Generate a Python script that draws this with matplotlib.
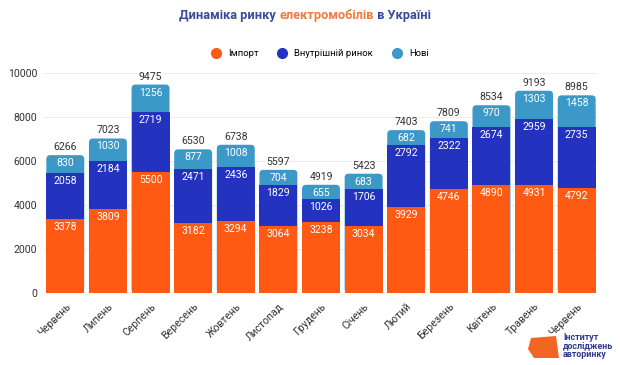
import matplotlib
matplotlib.use("Agg")
import matplotlib.pyplot as plt
from matplotlib.patches import FancyBboxPatch, Polygon
from matplotlib.lines import Line2D
import numpy as np

plt.rcParams['font.family'] = ['Roboto', 'DejaVu Sans']

months = ["Червень", "Липень", "Серпень", "Вересень", "Жовтень", "Листопад", "Грудень",
          "Січень", "Лютий", "Березень", "Квітень", "Травень", "Червень"]
imports = [3378, 3809, 5500, 3182, 3294, 3064, 3238, 3034, 3929, 4746, 4890, 4931, 4792]
domestic = [2058, 2184, 2719, 2471, 2436, 1829, 1026, 1706, 2792, 2322, 2674, 2959, 2735]
new = [830, 1030, 1256, 877, 1008, 704, 655, 683, 682, 741, 970, 1303, 1458]
totals = [6266, 7023, 9475, 6530, 6738, 5597, 4919, 5423, 7403, 7809, 8534, 9193, 8985]
yticks = [0, 2000, 4000, 6000, 8000, 10000]
series_names = ["Імпорт", "Внутрішній ринок", "Нові"]

c_imp = "#FF5A14"
c_dom = "#2333BF"
c_new = "#3B98C7"

W, H = 620, 365
fig = plt.figure(figsize=(W / 100, H / 100), dpi=100)
ax_l, ax_b, ax_w, ax_h = 44 / W, 1 - 293 / H, 554 / W, 220 / H
ax = fig.add_axes([ax_l, ax_b, ax_w, ax_h])

n = len(months)
x = np.arange(n)
w = 0.89
ax.set_xlim(-0.5, n - 0.5)
ax.set_ylim(0, 10000)

xpp = n / (ax_w * W)
ypp = 10000 / (ax_h * H)
r = 4 * xpp
for i in range(n):
    top = imports[i] + domestic[i] + new[i]
    p = FancyBboxPatch((x[i] - w / 2, 0), w, top,
                       boxstyle=f"round,pad=0,rounding_size={r}",
                       mutation_aspect=ypp / xpp, fc=c_new, ec="none", zorder=2)
    ax.add_patch(p)
ax.bar(x, [a + b for a, b in zip(imports, domestic)], w, color=c_dom, zorder=3)
ax.bar(x, imports, w, color=c_imp, zorder=4)

off = 8 * ypp
fs = 7.6
for i in range(n):
    b1 = imports[i]
    b2 = b1 + domestic[i]
    b3 = b2 + new[i]
    ax.text(x[i], b1 - off, str(imports[i]), ha="center", va="center", color="white", fontsize=fs, zorder=5)
    ax.text(x[i], b2 - off, str(domestic[i]), ha="center", va="center", color="white", fontsize=fs, zorder=5)
    ax.text(x[i], b3 - off, str(new[i]), ha="center", va="center", color="white", fontsize=fs, zorder=5)
    ax.text(x[i], b3 + 3 * ypp, str(totals[i]), ha="center", va="bottom", color="#333333", fontsize=fs, zorder=5)

for s in ax.spines.values():
    s.set_visible(False)
ax.set_yticks(yticks)
ax.set_yticklabels([str(t) for t in yticks], fontsize=7.6, color="#333333")
ax.tick_params(axis="y", length=0, pad=5)
ax.grid(axis="y", color="#ececec", linewidth=0.8, zorder=0)
ax.set_axisbelow(True)
ax.set_xticks(x)
ax.set_xticklabels(months, rotation=45, ha="right", rotation_mode="anchor", fontsize=7.6, color="#333333")
ax.tick_params(axis="x", length=0, pad=6)

# legend
handles = [Line2D([], [], marker="o", ls="", color=c, markersize=7) for c in (c_imp, c_dom, c_new)]
fig.legend(handles, series_names, loc="center", bbox_to_anchor=(0.512, 1 - 54 / H),
           ncol=3, frameon=False, fontsize=6.8, handletextpad=0.3, columnspacing=1.5)

# title with mixed colours
parts = [("Динаміка ринку ", "#3B4A9C"), ("електромобілів", "#F07B3F"), (" в Україні", "#3B4A9C")]
fig.canvas.draw()
renderer = fig.canvas.get_renderer()
texts = []
total_w = 0
for s, c in parts:
    t = fig.text(0, 1 - 16 / H, s, color=c, fontsize=9.2, fontweight="bold", va="center", ha="left")
    bb = t.get_window_extent(renderer)
    texts.append((t, bb.width))
    total_w += bb.width
start = 305 - total_w / 2
for t, wpx in texts:
    t.set_x(start / W)
    start += wpx

# logo
logo = Polygon([[531 / W, 1 - 338 / H], [556 / W, 1 - 336 / H], [559 / W, 1 - 358 / H],
                [534 / W, 1 - 358 / H], [528 / W, 1 - 349 / H]],
               closed=True, transform=fig.transFigure, fc="#F26522", ec="none")
fig.patches.append(logo)
fig.text(563 / W, 1 - 346 / H, "Інститут\nдосліджень\nавторинку", fontsize=6.4, fontweight="bold",
         color="#2F3C8C", va="center", ha="left", linespacing=0.95)

fig.savefig("out.png", dpi=100)
